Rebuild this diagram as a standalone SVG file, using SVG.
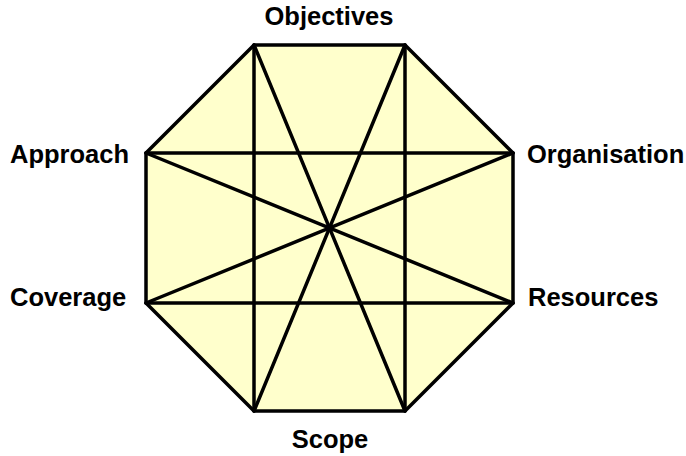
<svg xmlns="http://www.w3.org/2000/svg" width="686" height="456" viewBox="0 0 686 456">
<style>
.lbl{font-family:"Liberation Sans",Arial,sans-serif;font-weight:bold;font-size:25.5px;fill:#000}
.ln{stroke:#000;stroke-width:3.5;fill:none;stroke-linecap:round}
</style>
<rect width="686" height="456" fill="#fff"/>
<g id="octagon">
<polygon points="254,45 405,45 513,153 513,303 405,411 254,411 146,303 146,153" fill="#FFFFCC" stroke="#000" stroke-width="3.5" stroke-linejoin="miter"/>
</g>
<g id="connectors">
<line class="ln" x1="254" y1="45" x2="254" y2="411"/>
<line class="ln" x1="405" y1="45" x2="405" y2="411"/>
<line class="ln" x1="146" y1="153" x2="513" y2="153"/>
<line class="ln" x1="146" y1="303" x2="513" y2="303"/>
<line class="ln" x1="254" y1="45" x2="405" y2="411"/>
<line class="ln" x1="405" y1="45" x2="254" y2="411"/>
<line class="ln" x1="146" y1="153" x2="513" y2="303"/>
<line class="ln" x1="513" y1="153" x2="146" y2="303"/>
</g>
<g id="objectives"><text class="lbl" x="329" y="25" text-anchor="middle">Objectives</text></g>
<g id="approach"><text class="lbl" x="10" y="163">Approach</text></g>
<g id="organisation"><text class="lbl" x="527" y="163">Organisation</text></g>
<g id="coverage"><text class="lbl" x="10" y="306">Coverage</text></g>
<g id="resources"><text class="lbl" x="528" y="306">Resources</text></g>
<g id="scope"><text class="lbl" x="330" y="448" text-anchor="middle">Scope</text></g>
</svg>
